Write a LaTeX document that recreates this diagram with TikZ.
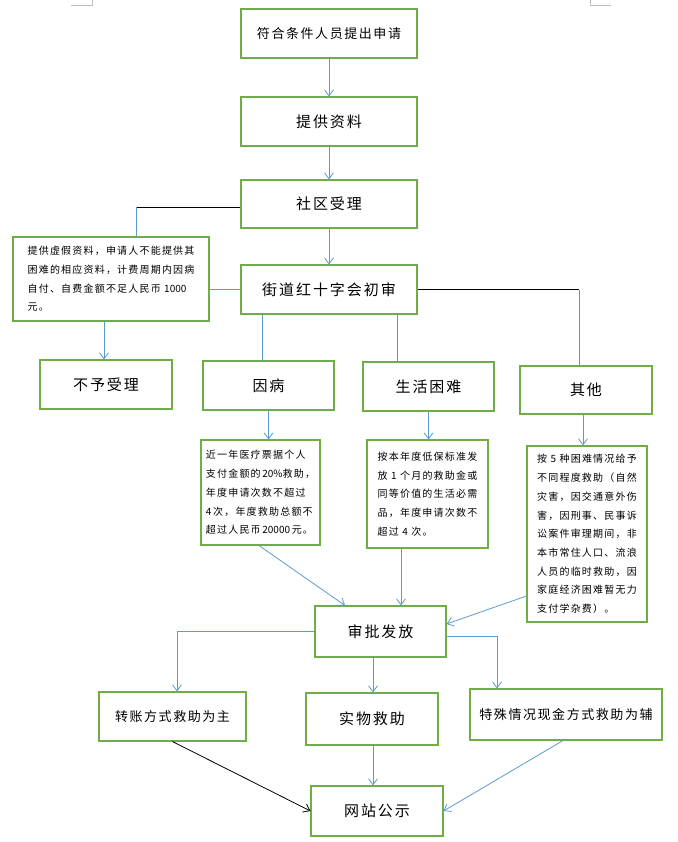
\documentclass[tikz,border=0pt]{standalone}
\usepackage{fontspec}
\setmainfont{Noto Sans CJK SC}
\newfontfamily\cjkmain[LetterSpace=13]{Noto Sans CJK SC}
\newfontfamily\cjksmall[LetterSpace=12]{Noto Sans CJK SC}
\newfontfamily\cjknote[LetterSpace=12]{Noto Sans CJK SC}
\newfontfamily\cjkplain{Noto Sans CJK SC}
\newcommand{\numtxt}[1]{{\cjkplain #1}}
\usetikzlibrary{arrows.meta}
\definecolor{boxgreen}{HTML}{70AD47}
\definecolor{linkblue}{HTML}{5B9BD5}
\definecolor{markgrey}{HTML}{BFBFBF}
\begin{document}
\begin{tikzpicture}[x=1pt,y=-1pt,
  box/.style={draw=boxgreen, line width=1.1pt, inner sep=0pt, anchor=center},
  bigtext/.style={font=\cjkmain\fontsize{15}{18}\selectfont},
  midtext/.style={font=\cjksmall\fontsize{13}{16}\selectfont},
  notetext/.style={font=\cjknote\fontsize{10}{18.7}\selectfont, align=left},
  link/.style={draw=linkblue, line width=0.8pt},
  arr/.style={link, -{Straight Barb[length=6pt,width=9pt]}},
  blk/.style={draw=black, line width=0.8pt},
  blkarr/.style={blk, -{Straight Barb[length=6pt,width=9pt]}}]
\useasboundingbox (0,0) rectangle (677,842);
% page corner marks
\draw[markgrey, line width=0.6pt] (71,5) -- (92,5) -- (92,0);
\draw[markgrey, line width=0.6pt] (590,0) -- (590,5) -- (611,5);
% main column
\node[box, midtext, minimum width=176pt, minimum height=49pt] (b1) at (329,33.5) {符合条件人员提出申请};
\node[box, bigtext, minimum width=176pt, minimum height=49pt] (b2) at (329,121.5) {提供资料};
\node[box, bigtext, minimum width=176pt, minimum height=48pt] (b3) at (329,204) {社区受理};
\node[box, bigtext, minimum width=176pt, minimum height=49pt] (b4) at (329,289.5) {街道红十字会初审};
% left note
\node[box, notetext, minimum width=196pt, minimum height=84pt] (n0) at (111,279) {提供虚假资料，申请人不能提供其\\困难的相应资料，计费周期内因病\\自付、自费金额不足人民币 \numtxt{1000}\\元。};
% second row
\node[box, bigtext, minimum width=132pt, minimum height=49pt] (r0) at (106,384.5) {不予受理};
\node[box, bigtext, minimum width=131pt, minimum height=49pt] (r1) at (268.5,385.5) {因病};
\node[box, bigtext, minimum width=131pt, minimum height=49pt] (r2) at (428.5,386.5) {生活困难};
\node[box, bigtext, minimum width=132pt, minimum height=48pt] (r3) at (586,390) {其他};
% notes
\node[box, notetext, minimum width=119pt, minimum height=105pt] (n1) at (260.5,492.5) {近一年医疗票据个人\\支付金额的\,\numtxt{20\%}救助，\\年度申请次数不超过\\\numtxt{4}\,次，年度救助总额不\\超过人民币\,\numtxt{20000}\,元。};
\node[box, notetext, minimum width=121pt, minimum height=108pt] (n2) at (427.5,494) {按本年度低保标准发\\放 \numtxt{1} 个月的救助金或\\同等价值的生活必需\\品，年度申请次数不\\超过 \numtxt{4} 次。};
\node[box, notetext, minimum width=120pt, minimum height=176pt] (n3) at (587,534) {按 \numtxt{5} 种困难情况给予\\不同程度救助（自然\\灾害，因交通意外伤\\害，因刑事、民事诉\\讼案件审理期间，非\\本市常住人口、流浪\\人员的临时救助，因\\家庭经济困难暂无力\\支付学杂费）。};
% approval
\node[box, bigtext, minimum width=131pt, minimum height=51pt] (s) at (380.5,631.5) {审批发放};
\node[box, midtext, minimum width=147pt, minimum height=49pt] (t1) at (172.5,716.5) {转账方式救助为主};
\node[box, bigtext, minimum width=132pt, minimum height=52pt] (t2) at (372,719) {实物救助};
\node[box, midtext, minimum width=192pt, minimum height=51pt] (t3) at (566,714.5) {特殊情况现金方式救助为辅};
\node[box, bigtext, minimum width=132pt, minimum height=50pt] (w) at (377,811) {网站公示};
% helper coordinates
\coordinate (k1) at (136,207);
\coordinate (xa) at (104,0);
\coordinate (xb) at (262,0);
\coordinate (xc) at (397,0);
\coordinate (k2) at (579,289.5);
\coordinate (xd) at (583,0);
\coordinate (xe) at (401,0);
\coordinate (ya) at (0,596);
\coordinate (yb) at (0,624);
\coordinate (xf) at (177,0);
\coordinate (xg) at (373,0);
\coordinate (yc) at (0,636);
\coordinate (xh) at (497,0);
% connectors
\draw[arr] (b1.south) -- (b2.north);
\draw[arr] (b2.south) -- (b3.north);
\draw[arr] (b3.south) -- (b4.north);
\draw[blk] (b3.west |- k1) -- (k1);
\draw[link] (k1) -- (k1 |- n0.north);
\draw[link] (b4.west -| n0.east) -- (b4.west);
\draw[arr] (xa |- n0.south) -- (xa |- r0.north);
\draw[link] (xb |- b4.south) -- (xb |- r1.north);
\draw[link] (xc |- b4.south) -- (xc |- r2.north);
\draw[blk] (b4.east) -- (k2);
\draw[link] (k2) -- (k2 |- r3.north);
\draw[arr] (r1.south) -- (r1.south |- n1.north);
\draw[arr] (r2.south) -- (r2.south |- n2.north);
\draw[arr] (xd |- r3.south) -- (xd |- n3.north);
\draw[arr] ([xshift=-1.5pt]n1.south) -- ([xshift=-35.5pt]s.north);
\draw[arr] (xe |- n2.south) -- (xe |- s.north);
\draw[arr] (n3.west |- ya) -- (s.east |- yb);
\draw[arr] (s.west) -| (xf |- t1.north);
\draw[arr] (xg |- s.south) -- (xg |- t2.north);
\draw[arr] (s.east |- yc) -| (xh |- t3.north);
\draw[blkarr] (t1.south) -- (w.west);
\draw[arr] (xg |- t2.south) -- (xg |- w.north);
\draw[arr] ([xshift=-3pt]t3.south) -- (w.east);
\end{tikzpicture}
\end{document}
